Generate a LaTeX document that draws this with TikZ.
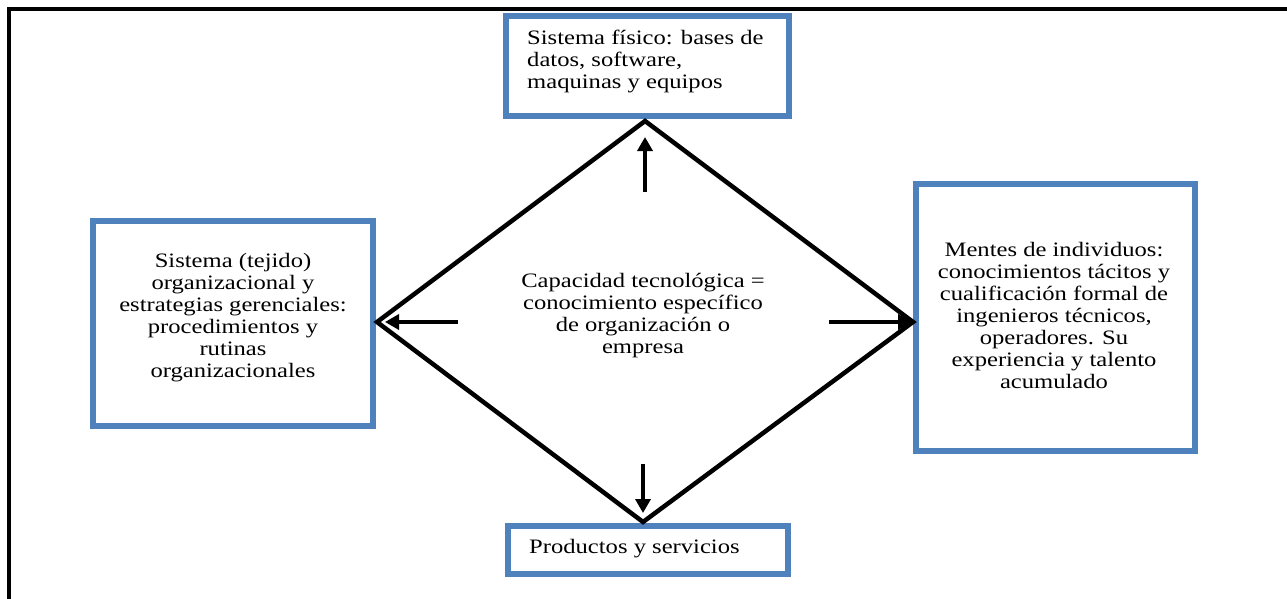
\documentclass[tikz,border=0pt]{standalone}
\usepackage{fontspec}
\setmainfont{Liberation Serif}[FakeStretch=1.2]
\usetikzlibrary{arrows.meta}
\definecolor{boxblue}{HTML}{4F81BD}
\begin{document}
\begin{tikzpicture}[x=1pt,y=-1pt,
  box/.style={draw=boxblue, line width=6.5pt, inner sep=0pt},
  lbl/.style={font=\fontsize{20.5}{22}\selectfont, inner sep=0pt, text=black},
  side/.style={line width=4.5pt, line join=miter},
  arr/.style={line width=4.2pt, -{Triangle[length=14pt,width=15pt]}}]
\useasboundingbox (0,0) rectangle (1287,599);

% outer frame (top and left edges)
\draw[line width=4.5pt] (9,599) -- (9,9) -- (1287,9);

% boxes
\node[box, minimum width=283pt, minimum height=100pt] (fisico) at (647.5,66) {};
\node[box, minimum width=280pt, minimum height=205pt] (tejido) at (233,323.5) {};
\node[box, minimum width=279pt, minimum height=267pt] (mentes) at (1055.5,317.5) {};
\node[box, minimum width=280pt, minimum height=48pt] (productos) at (648,550) {};

% box texts
\node[lbl, align=left, anchor=north west] (fisicot) at (527,30)
  {Sistema físico: bases de\\datos, software,\\maquinas y equipos};
\node[lbl, anchor=base west] (productost) at (529,553) {Productos y servicios};
\node[lbl, align=center] (tejidot) at (233,318)
  {Sistema (tejido)\\organizacional y\\estrategias gerenciales:\\procedimientos y\\rutinas\\organizacionales};
\node[lbl, align=center] (mentest) at (1054,315)
  {Mentes de individuos:\\conocimientos tácitos y\\cualificación formal de\\ingenieros técnicos,\\operadores. Su\\experiencia y talento\\acumulado};

% central statement
\node[lbl, align=center] (capacidad) at (643,316)
  {Capacidad tecnológica =\\conocimiento específico\\de organización o\\empresa};

% diamond corners
\coordinate (dT) at (645,121);
\coordinate (dL) at (377,322);
\coordinate (dB) at (643,522);
\coordinate (dR) at (913,322);
\draw[side] (dT) -- (dR) -- (dB) -- (dL) -- cycle;

% arrows from the centre outwards
\coordinate (aTs) at (645,192);
\coordinate (aTe) at (645,137);
\coordinate (aLs) at (458,322);
\coordinate (aLe) at (385,322);
\coordinate (aRs) at (829,322);
\coordinate (aRe) at (912,322);
\coordinate (aBs) at (643,464);
\coordinate (aBe) at (643,513);
\draw[arr] (aTs) -- (aTe);
\draw[arr] (aLs) -- (aLe);
\draw[arr] (aRs) -- (aRe);
\draw[arr] (aBs) -- (aBe);
\end{tikzpicture}
\end{document}
